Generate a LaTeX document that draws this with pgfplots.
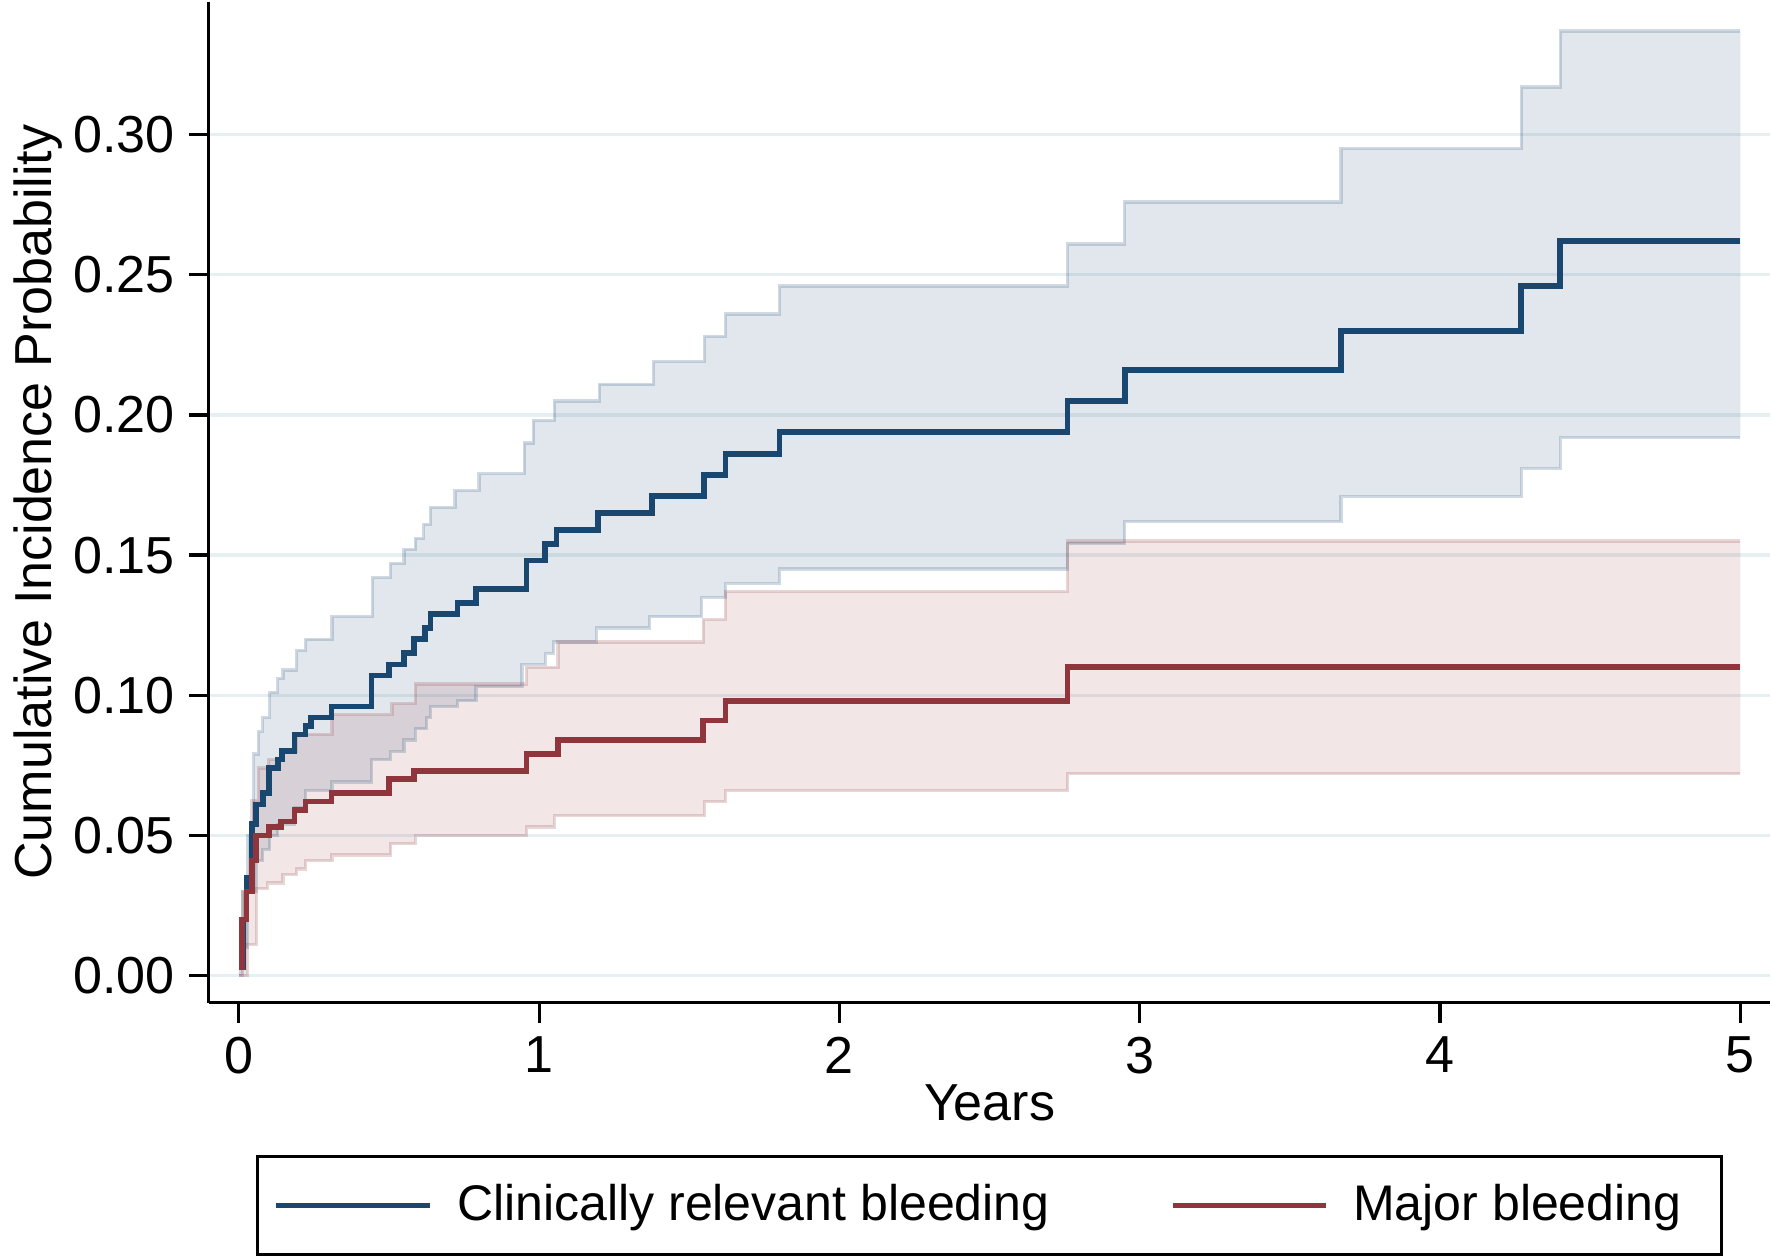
\documentclass[border=0pt]{standalone}
\usepackage{pgfplots}
\pgfplotsset{compat=1.18}
\usepgfplotslibrary{fillbetween}
\usepackage{fontspec}
\setmainfont{Liberation Sans}
\definecolor{cb}{HTML}{1A476F}
\definecolor{cr}{HTML}{90353B}
\definecolor{gl}{HTML}{E6EFF2}
\begin{document}
\begin{tikzpicture}
\begin{axis}[
  width=390pt, height=250pt, scale only axis,
  xmin=-0.1, xmax=5.1, ymin=-0.0097, ymax=0.3475,
  axis lines=left, axis line style={-, thick},
  xtick={0,1,2,3,4,5}, ytick={0,0.05,0.10,0.15,0.20,0.25,0.30},
  yticklabel style={/pgf/number format/.cd, fixed, fixed zerofill, precision=2},
  /pgf/number format/assume math mode=true,
  tick style={black, thick}, tick align=outside, major tick length=5pt,
  ymajorgrids, grid style={gl, line width=0.8pt},
  ticklabel style={font=\fontsize{13}{15}\selectfont},
  label style={font=\fontsize{13}{15}\selectfont},
  xlabel={Years}, ylabel={Cumulative Incidence Probability},
  xlabel style={yshift=4pt}, ylabel style={yshift=-4pt},
  legend style={at={(0.5,0)}, anchor=north, yshift=-38pt, legend columns=2, draw=black, thick,
    font=\fontsize{12.5}{15}\selectfont, /tikz/every even column/.append style={column sep=24pt},
    nodes={inner xsep=6pt}, inner xsep=4pt, inner ysep=5pt},
  legend image code/.code={\draw[#1] (0cm,0cm) -- (1.35cm,0cm);},
  clip=false,
]
% blue upper
\addplot[const plot, draw=cb, draw opacity=0.2, thick, name path=bu, forget plot] coordinates {
(0,0.003)(0.013,0.03)(0.03,0.05)(0.05,0.079)(0.065,0.087)(0.08,0.092)(0.103,0.101)(0.13,0.106)(0.147,0.109)(0.192,0.116)(0.222,0.120)(0.31,0.128)(0.445,0.142)(0.505,0.147)(0.55,0.152)(0.587,0.156)(0.616,0.161)(0.638,0.167)(0.72,0.173)(0.8,0.179)(0.95,0.190)(0.98,0.198)(1.05,0.205)(1.2,0.211)(1.38,0.219)(1.55,0.228)(1.62,0.236)(1.8,0.246)(2.76,0.261)(2.95,0.276)(3.67,0.295)(4.27,0.317)(4.4,0.337)(5,0.337)};
% blue lower
\addplot[const plot, draw=cb, draw opacity=0.2, thick, name path=bl, forget plot] coordinates {
(0,0.0)(0.013,0.01)(0.03,0.03)(0.058,0.041)(0.08,0.045)(0.103,0.05)(0.13,0.054)(0.185,0.06)(0.222,0.066)(0.31,0.069)(0.442,0.077)(0.505,0.080)(0.55,0.084)(0.587,0.088)(0.625,0.092)(0.638,0.096)(0.728,0.098)(0.79,0.103)(0.943,0.111)(1.02,0.115)(1.048,0.119)(1.19,0.124)(1.368,0.128)(1.54,0.135)(1.62,0.140)(1.8,0.145)(2.76,0.154)(2.95,0.162)(3.67,0.171)(4.27,0.181)(4.4,0.192)(5,0.192)};
\addplot[cb, fill opacity=0.13, forget plot] fill between[of=bu and bl];
% red upper
\addplot[const plot, draw=cr, draw opacity=0.2, thick, name path=ru, forget plot] coordinates {
(0,0.003)(0.013,0.03)(0.043,0.0625)(0.065,0.074)(0.10,0.077)(0.147,0.080)(0.192,0.086)(0.31,0.093)(0.51,0.097)(0.587,0.104)(0.958,0.110)(1.063,0.119)(1.546,0.127)(1.62,0.137)(2.76,0.155)(5,0.155)};
% red lower
\addplot[const plot, draw=cr, draw opacity=0.2, thick, name path=rl, forget plot] coordinates {
(0,0.0)(0.028,0.011)(0.058,0.031)(0.095,0.033)(0.147,0.036)(0.192,0.038)(0.222,0.041)(0.31,0.043)(0.506,0.047)(0.587,0.05)(0.958,0.053)(1.05,0.057)(1.55,0.062)(1.62,0.066)(2.76,0.072)(5,0.072)};
\addplot[cr, fill opacity=0.12, forget plot] fill between[of=ru and rl];
% blue line
\addplot[const plot, cb, line width=1.4pt] coordinates {
(0,0.003)(0.013,0.02)(0.025,0.035)(0.043,0.054)(0.058,0.061)(0.08,0.065)(0.10,0.074)(0.13,0.077)(0.144,0.080)(0.185,0.086)(0.222,0.089)(0.24,0.092)(0.308,0.096)(0.442,0.107)(0.50,0.111)(0.55,0.115)(0.583,0.120)(0.62,0.124)(0.638,0.129)(0.728,0.133)(0.79,0.138)(0.958,0.148)(1.02,0.154)(1.058,0.159)(1.196,0.165)(1.375,0.171)(1.549,0.1786)(1.62,0.186)(1.8,0.194)(2.76,0.205)(2.95,0.216)(3.67,0.230)(4.27,0.246)(4.4,0.262)(5,0.262)};
\addlegendentry{Clinically relevant bleeding}
% red line
\addplot[const plot, cr, line width=1.4pt] coordinates {
(0,0.003)(0.01,0.02)(0.025,0.03)(0.043,0.041)(0.058,0.05)(0.10,0.053)(0.14,0.055)(0.185,0.059)(0.222,0.062)(0.308,0.065)(0.50,0.070)(0.583,0.073)(0.958,0.079)(1.063,0.084)(1.546,0.091)(1.62,0.098)(2.76,0.110)(5,0.110)};
\addlegendentry{Major bleeding}
\end{axis}
\end{tikzpicture}
\end{document}
